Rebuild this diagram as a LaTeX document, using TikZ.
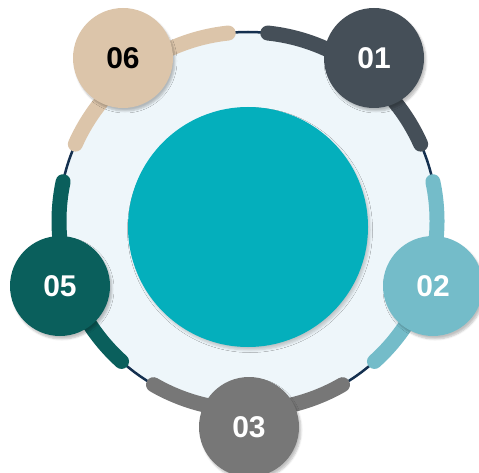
\documentclass[tikz,border=0pt]{standalone}
\usepackage{fontspec}
\setmainfont{Liberation Sans}
\usetikzlibrary{shadows.blur}
\definecolor{ringblue}{HTML}{14304F}
\definecolor{paleblue}{HTML}{EEF6FA}
\definecolor{coreteal}{HTML}{04AFBC}
\definecolor{stepone}{HTML}{454F58}
\definecolor{steptwo}{HTML}{74BCC9}
\definecolor{stepthree}{HTML}{777777}
\definecolor{stepfive}{HTML}{0A5F5C}
\definecolor{stepsix}{HTML}{DCC5AA}

\begin{document}
\begin{tikzpicture}[x=1pt, y=1pt,
    badge/.style={circle, minimum size=100pt, inner sep=0pt, text=white,
      font=\fontsize{30}{30}\selectfont\bfseries,
      blur shadow={shadow xshift=2pt, shadow yshift=-3pt, shadow blur radius=2pt, shadow blur steps=5, shadow opacity=25}},
    band/.style={line width=15pt, line cap=round}]
    \clip (0,0) rectangle (479,472);
    \coordinate (c) at (248,251);
    % pale disc and its thin rim
    \fill[paleblue] (c) circle (189);
    \draw[ringblue, line width=2.5pt] (c) circle (189);
    % one thick band per step along the rim
    \foreach \a/\col [evaluate=\a as \s using \a-30, evaluate=\a as \e using \a+30] in {54/stepone, -18/steptwo, -90/stepthree, 198/stepfive, 126/stepsix}
        \draw[band, \col] (c) ++(\s:189) arc[start angle=\s, end angle=\e, radius=189];
    \node[circle, fill=coreteal, minimum size=240pt, inner sep=0pt,
      blur shadow={shadow xshift=2pt, shadow yshift=-3pt, shadow blur radius=2.5pt, shadow blur steps=5, shadow opacity=20}] (core) at (248,245) {};
    \node[badge, fill=stepone] (s1) at (374,414) {01};
    \node[badge, fill=steptwo] (s2) at (433,186) {02};
    \node[badge, fill=stepthree] (s3) at (249,45) {03};
    \node[badge, fill=stepfive] (s5) at (60,186) {05};
    \node[badge, fill=stepsix, text=black] (s6) at (123,414) {06};
\end{tikzpicture}
\end{document}
